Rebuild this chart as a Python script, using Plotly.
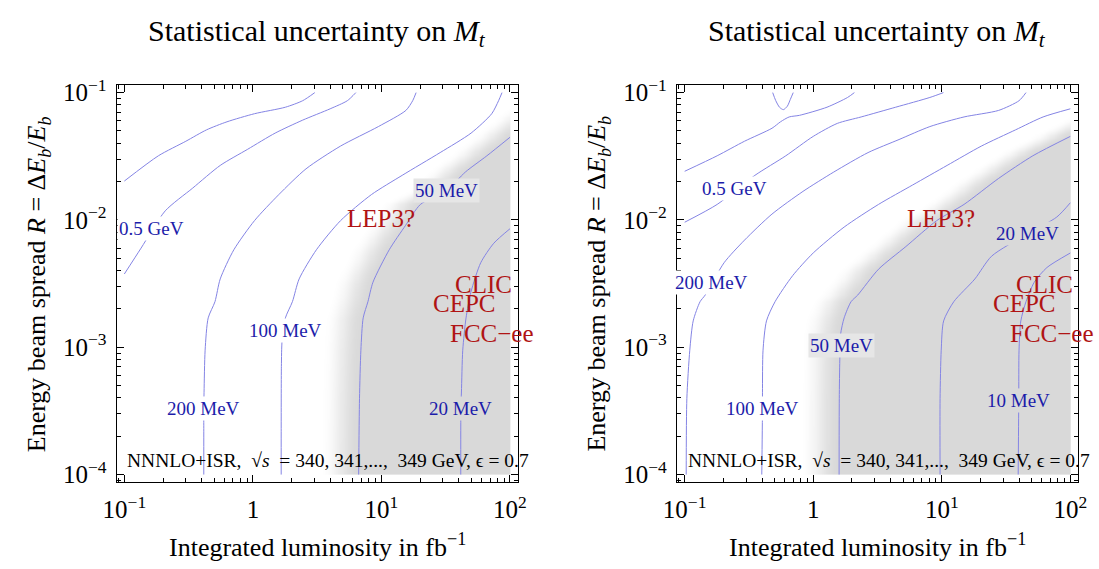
import numpy as np
import plotly.graph_objects as go

# ---------------- data ----------------
tick_vals_x = [0.1, 1, 10, 100]
tick_text_x = ["10<sup>−1</sup>", "1", "10<sup>1</sup>", "10<sup>2</sup>"]
tick_vals_y = [1e-4, 1e-3, 1e-2, 1e-1]
tick_text_y = ["10<sup>−4</sup>", "10<sup>−3</sup>", "10<sup>−2</sup>", "10<sup>−1</sup>"]

# Left panel contours: L = integrated luminosity [fb^-1], R = beam spread
left_c1_L = [0.1, 0.184, 0.301, 0.436, 0.629, 1.03, 1.79, 2.44, 3.03]
left_c1_R = [0.0202, 0.0319, 0.0415, 0.0510, 0.0590, 0.0683, 0.0768, 0.0864, 0.1]
left_500_L = [0.1, 0.135, 0.208, 0.340, 0.557, 0.911, 1.49, 2.44, 3.99, 5.43, 6.32]
left_500_R = [0.00376, 0.00601, 0.01178, 0.01778, 0.0268, 0.0359, 0.0481, 0.0608, 0.0746, 0.0864, 0.1]
left_200_L = [0.415, 0.415, 0.415, 0.417, 0.425, 0.449, 0.507, 0.557, 0.711, 1.03, 1.59, 2.59, 4.80, 9.46, 15.5, 17.5, 18.6]
left_200_R = [1e-4, 2.19e-4, 3.30e-4, 4.43e-4, 9.48e-4, 1.70e-3, 2.28e-3, 3.44e-3, 5.83e-3, 9.88e-3, 0.0158, 0.0252, 0.0380, 0.0541, 0.0725, 0.0864, 0.1]
left_100_L = [1.66, 1.66, 1.666, 1.687, 1.79, 2.03, 2.29, 3.12, 4.81, 8.35, 14.5, 28.6, 49.8, 72.1, 81.5, 86.7]
left_100_R = [1e-4, 2.19e-4, 7.08e-4, 1.13e-3, 1.70e-3, 2.28e-3, 3.44e-3, 5.83e-3, 9.88e-3, 0.0158, 0.0224, 0.0338, 0.0481, 0.0683, 0.0864, 0.1]
left_50_L = [6.65, 6.75, 6.92, 7.21, 7.85, 8.59, 11.5, 15.4, 20.1, 32.2, 45.0, 66.1, 100]
left_50_R = [1e-4, 3.94e-4, 9.48e-4, 1.70e-3, 2.28e-3, 3.24e-3, 5.83e-3, 9.06e-3, 0.01324, 0.0171, 0.0238, 0.0319, 0.0446]
left_20_L = [41.4, 41.5, 41.9, 42.9, 45.5, 49.7, 59.2, 74.8, 100]
left_20_R = [1e-4, 3.30e-4, 4.45e-4, 9.48e-4, 1.70e-3, 2.72e-3, 4.61e-3, 6.56e-3, 8.53e-3]

# Right panel contours
right_top_L = [0.484, 0.510, 0.547, 0.586, 0.629, 0.664, 0.699]
right_top_R = [0.1, 0.0869, 0.0767, 0.0735, 0.0782, 0.0885, 0.1]
right_c1_L = [0.1, 0.179, 0.292, 0.478, 0.557, 0.650, 0.782, 1.28, 1.85, 2.09]
right_c1_R = [0.0241, 0.0319, 0.0415, 0.0525, 0.0590, 0.0644, 0.0663, 0.0768, 0.0916, 0.1]
right_500_L = [0.1, 0.179, 0.352, 0.612, 1.0, 1.54, 2.36, 4.38, 8.08, 10.3]
right_500_R = [0.00959, 0.01324, 0.0224, 0.0319, 0.0453, 0.0573, 0.0644, 0.0768, 0.0916, 0.1]
right_200_L = [0.1028, 0.104, 0.1096, 0.1165, 0.1318, 0.1445, 0.2026, 0.2925, 0.4775, 0.832, 1.445, 2.67, 4.65, 8.08, 14.9, 27.7, 39.9, 45.2]
right_200_R = [1e-4, 3.94e-4, 9.48e-4, 1.61e-3, 2.28e-3, 2.57e-3, 4.61e-3, 6.95e-3, 0.01111, 0.01675, 0.02378, 0.0338, 0.0428, 0.0541, 0.0644, 0.0725, 0.0864, 0.1]
right_100_L = [0.398, 0.403, 0.403, 0.407, 0.433, 0.505, 0.692, 1.0, 1.74, 3.22, 5.94, 11.0, 20.3, 37.5, 61.4, 100]
right_100_R = [1e-4, 3.30e-4, 4.43e-4, 9.48e-4, 1.61e-3, 2.28e-3, 3.65e-3, 5.50e-3, 8.79e-3, 0.01324, 0.01882, 0.0268, 0.0380, 0.0510, 0.0644, 0.0746]
right_50_L = [1.59, 1.595, 1.61, 1.634, 1.74, 1.97, 2.22, 3.22, 5.26, 9.14, 14.9, 27.7, 51.1, 100]
right_50_R = [1e-4, 3.94e-4, 7.96e-4, 1.27e-3, 1.70e-3, 2.28e-3, 2.57e-3, 4.10e-3, 6.18e-3, 9.88e-3, 0.01324, 0.0212, 0.0319, 0.0453]
right_20_L = [9.70, 9.70, 9.90, 10.34, 12.4, 18.1, 24.4, 46.8, 78.5, 100]
right_20_R = [1e-4, 3.94e-4, 9.48e-4, 1.61e-3, 2.28e-3, 3.44e-3, 5.19e-3, 7.82e-3, 0.01054, 0.01364]
right_10_L = [39.3, 39.7, 39.9, 41.2, 45.2, 52.4, 65.8, 100]
right_10_R = [1e-4, 3.82e-4, 9.48e-4, 1.61e-3, 2.28e-3, 3.24e-3, 4.23e-3, 5.50e-3]

# contour labels: (text, L, R)
left_label_text = ["0.5 GeV", "200 MeV", "100 MeV", "50 MeV", "20 MeV"]
left_label_L = [0.1625, 0.415, 1.79, 32.2, 41.5]
left_label_R = [0.00853, 3.30e-4, 1.35e-3, 0.0171, 3.30e-4]
right_label_text = ["0.5 GeV", "200 MeV", "100 MeV", "50 MeV", "20 MeV", "10 MeV"]
right_label_L = [0.243, 0.1607, 0.403, 1.654, 46.6, 39.7]
right_label_R = [0.0178, 3.24e-3, 3.30e-4, 1.035e-3, 7.82e-3, 3.82e-4]

# collider labels (same in both panels)
machine_text = ["LEP3?", "CLIC", "CEPC", "FCC−ee"]
machine_L = [9.9, 62.7, 44.2, 32.8]
machine_R = [0.0102, 0.0031, 0.00222, 0.00128]

note_text = "NNNLO+ISR,\u00a0\u00a0√<i>s</i>\u00a0 = 340, 341,...,\u00a0\u00a0349 GeV, ϵ = 0.7"
title_text = "Statistical uncertainty on <i>M</i><sub><i>t</i></sub>"
xtitle_text = "Integrated luminosity in fb<sup>−1</sup>"
ytitle_text = "Energy beam spread <i>R</i> = Δ<i>E</i><sub><i>b</i></sub>/<i>E</i><sub><i>b</i></sub>"

# ---------------- styles ----------------
FONT = "Liberation Serif"
LINE_C = "#8484e4"
BLUE_T = "#1c1caa"
RED_T = "#b01414"
GRAY = 217
FADE = 0.30  # decades (horizontal soft edge of shaded region)

W, H = 1099, 569
xdom_left = [104.7 / W, 514.6 / W]
xdom_right = [677.0 / W, 1086.9 / W]
ydom = [1 - 486 / H, 1 - 77 / H]
xrange_log = [-1.0609, 2.0609]
yrange_log = [-4.061, -0.9389]

fig = go.Figure()


def shade(Lb, Rb, xa, ya):
    n = 180
    ue = np.linspace(-1, 2, n + 1)
    ve = np.linspace(-4, -1, n + 1)
    uc = (ue[:-1] + ue[1:]) / 2
    vc = (ve[:-1] + ve[1:]) / 2
    lu = np.log10(Lb)
    lv = np.log10(Rb)
    ub = np.interp(vc, lv, lu)
    slope = (lu[-1] - lu[-2]) / (lv[-1] - lv[-2])
    above = vc > lv[-1]
    ub[above] = lu[-1] + slope * (vc[above] - lv[-1])
    t = np.clip((uc[None, :] - (ub[:, None] - FADE)) / FADE, 0, 1)
    g = t * t * (3 - 2 * t)
    fig.add_trace(go.Heatmap(
        x=10 ** ue, y=10 ** ve, z=np.round(g, 3), zmin=0, zmax=1,
        colorscale=[[0, "rgb(255,255,255)"], [1, f"rgb({GRAY},{GRAY},{GRAY})"]],
        showscale=False, hoverinfo="skip", zsmooth="best", xaxis=xa, yaxis=ya))


def line(L, R, xa, ya):
    fig.add_trace(go.Scatter(
        x=L, y=R, mode="lines", hoverinfo="skip",
        line=dict(color=LINE_C, width=1, shape="spline", smoothing=0.7),
        xaxis=xa, yaxis=ya))


shade(left_50_L, left_50_R, "x", "y")
for L, R in [(left_c1_L, left_c1_R), (left_500_L, left_500_R), (left_200_L, left_200_R),
             (left_100_L, left_100_R), (left_50_L, left_50_R), (left_20_L, left_20_R)]:
    line(L, R, "x", "y")

shade(right_50_L, right_50_R, "x2", "y2")
for L, R in [(right_top_L, right_top_R), (right_c1_L, right_c1_R), (right_500_L, right_500_R),
             (right_200_L, right_200_R), (right_100_L, right_100_R), (right_50_L, right_50_R),
             (right_20_L, right_20_R), (right_10_L, right_10_R)]:
    line(L, R, "x2", "y2")

minor_x = [m * 10.0 ** e for e in range(-2, 3) for m in range(2, 10)]
minor_y = [m * 10.0 ** e for e in range(-5, 0) for m in range(2, 10)]


def xaxis(dom, anchor):
    return dict(type="log", domain=dom, range=xrange_log, anchor=anchor,
                showline=True, linecolor="black", linewidth=1, mirror="allticks",
                ticks="inside", ticklen=7, tickwidth=1, tickcolor="black",
                tickmode="array", tickvals=tick_vals_x, ticktext=tick_text_x,
                tickfont=dict(family=FONT, size=25, color="black"),
                ticklabelstandoff=5,
                minor=dict(tickmode="array", tickvals=minor_x, ticks="inside",
                           ticklen=4, tickwidth=1, tickcolor="black", showgrid=False),
                showgrid=False, zeroline=False)


def yaxis(anchor):
    return dict(type="log", domain=ydom, range=yrange_log, anchor=anchor,
                showline=True, linecolor="black", linewidth=1, mirror="allticks",
                ticks="inside", ticklen=7, tickwidth=1, tickcolor="black",
                tickmode="array", tickvals=tick_vals_y, ticktext=tick_text_y,
                tickfont=dict(family=FONT, size=25, color="black"),
                ticklabelstandoff=4,
                minor=dict(tickmode="array", tickvals=minor_y, ticks="inside",
                           ticklen=4, tickwidth=1, tickcolor="black", showgrid=False),
                showgrid=False, zeroline=False)


ann = []


def bg_for(text, panel):
    if text == "50 MeV":
        return "#e6e6e6"
    if (panel == "l" and text == "20 MeV") or (panel == "r" and text in ("20 MeV", "10 MeV")):
        return f"rgb({GRAY},{GRAY},{GRAY})"
    return "white"


for xa, ya, texts, Ls, Rs, p in [("x", "y", left_label_text, left_label_L, left_label_R, "l"),
                                 ("x2", "y2", right_label_text, right_label_L, right_label_R, "r")]:
    for t, L, R in zip(texts, Ls, Rs):
        ann.append(dict(xref=xa, yref=ya, x=np.log10(L), y=np.log10(R), text=t,
                        showarrow=False, bgcolor=bg_for(t, p), borderpad=1,
                        font=dict(family=FONT, size=19, color=BLUE_T)))
    for t, L, R in zip(machine_text, machine_L, machine_R):
        anchor = "left" if t.startswith("FCC") else "center"
        ann.append(dict(xref=xa, yref=ya, x=np.log10(L), y=np.log10(R), text=t,
                        showarrow=False, xanchor=anchor,
                        font=dict(family=FONT, size=25, color=RED_T)))
    ann.append(dict(xref=xa, yref=ya, x=np.log10(0.102), y=np.log10(1.3e-4), text=note_text,
                    showarrow=False, xanchor="left", yanchor="middle",
                    font=dict(family=FONT, size=19.5, color="black")))

for dom in (xdom_left, xdom_right):
    cx = (dom[0] + dom[1]) / 2
    ann.append(dict(xref="paper", yref="paper", x=cx, y=1 - 24 / H, text=title_text,
                    showarrow=False, xanchor="center", yanchor="middle",
                    font=dict(family=FONT, size=30, color="black")))
    ann.append(dict(xref="paper", yref="paper", x=cx, y=1 - 551 / H, text=xtitle_text,
                    showarrow=False, xanchor="center", yanchor="middle",
                    font=dict(family=FONT, size=26, color="black")))
    ann.append(dict(xref="paper", yref="paper", x=dom[0] - 80 / W, y=1 - 282 / H,
                    text=ytitle_text, textangle=-90,
                    showarrow=False, xanchor="center", yanchor="middle",
                    font=dict(family=FONT, size=26, color="black")))

fig.update_layout(
    width=W, height=H, margin=dict(l=0, r=0, t=0, b=0),
    paper_bgcolor="white", plot_bgcolor="white", showlegend=False,
    xaxis=xaxis(xdom_left, "y"), yaxis=yaxis("x"),
    xaxis2=xaxis(xdom_right, "y2"), yaxis2=yaxis("x2"),
    annotations=ann,
)

fig.write_html("out.html")
